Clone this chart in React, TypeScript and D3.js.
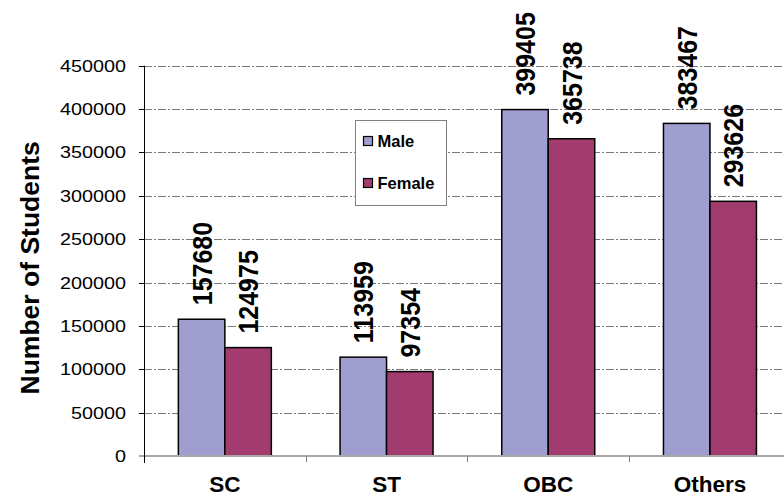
import React, { useRef, useEffect } from "react";
import * as d3 from "d3";

const categories = ["SC", "ST", "OBC", "Others"];
const seriesNames = ["Male", "Female"];
const maleValues = [157680, 113959, 399405, 383467];
const femaleValues = [124975, 97354, 365738, 293626];
const yTicks = [0, 50000, 100000, 150000, 200000, 250000, 300000, 350000, 400000, 450000];

const colors: Record<string, string> = { Male: "#A09ECE", Female: "#A33C6E" };

const App: React.FC = () => {
  const svgRef = useRef<SVGSVGElement | null>(null);

  useEffect(() => {
    const width = 784;
    const height = 496;
    const svg = d3.select(svgRef.current);
    svg.selectAll("*").remove();
    svg.attr("width", width).attr("height", height);

    const font = "'Liberation Sans', Arial, sans-serif";
    const left = 144;
    const step = 161.7;
    const y0 = 456;
    const yTop = 65.7;

    const x0 = d3
      .scaleBand<string>()
      .domain(categories)
      .range([left, left + step * categories.length])
      .paddingInner(0.425)
      .paddingOuter(0.2125);

    const x1 = d3
      .scaleBand<string>()
      .domain(seriesNames)
      .range([0, x0.bandwidth()]);

    const y = d3.scaleLinear().domain([0, 450000]).range([y0, yTop]);

    const rows = categories.map((c, i) => ({
      cat: c,
      vals: [
        { key: "Male", value: maleValues[i] },
        { key: "Female", value: femaleValues[i] },
      ],
    }));

    // gridlines
    svg
      .append("g")
      .selectAll("line")
      .data(yTicks.filter((t) => t > 0))
      .join("line")
      .attr("x1", left)
      .attr("x2", width)
      .attr("y1", (d) => Math.round(y(d)) + 0.5)
      .attr("y2", (d) => Math.round(y(d)) + 0.5)
      .attr("stroke", "#7a7a7a")
      .attr("stroke-dasharray", "8,2,2,2");

    // y tick marks + labels
    const yg = svg.append("g");
    yTicks.forEach((t) => {
      const yy = Math.round(y(t)) + 0.5;
      yg.append("line")
        .attr("x1", left - 5)
        .attr("x2", left)
        .attr("y1", yy)
        .attr("y2", yy)
        .attr("stroke", "#000");
      yg.append("text")
        .attr("transform", `translate(126,${yy}) scale(1.2,1)`)
        .attr("text-anchor", "end")
        .attr("dy", "0.36em")
        .attr("font-family", font)
        .attr("font-size", 16.5)
        .attr("fill", "#000")
        .text(String(t));
    });

    // bars
    const groups = svg
      .append("g")
      .selectAll("g")
      .data(rows)
      .join("g")
      .attr("transform", (d) => `translate(${x0(d.cat)},0)`);

    groups
      .selectAll("rect")
      .data((d) => d.vals)
      .join("rect")
      .attr("x", (d) => x1(d.key)!)
      .attr("y", (d) => y(d.value))
      .attr("width", x1.bandwidth())
      .attr("height", (d) => y0 - y(d.value))
      .attr("fill", (d) => colors[d.key])
      .attr("stroke", "#000")
      .attr("stroke-width", 1.5);

    // value labels (rotated)
    groups
      .selectAll("text")
      .data((d) => d.vals)
      .join("text")
      .attr(
        "transform",
        (d) =>
          `translate(${x1(d.key)! + x1.bandwidth() / 2},${y(d.value) - 14}) rotate(-90) scale(1,1.12)`
      )
      .attr("dy", "0.36em")
      .attr("font-family", font)
      .attr("font-weight", "bold")
      .attr("font-size", 25)
      .attr("fill", "#000")
      .text((d) => String(d.value));

    // x baseline
    svg
      .append("line")
      .attr("x1", left - 5)
      .attr("x2", width)
      .attr("y1", y0)
      .attr("y2", y0)
      .attr("stroke", "#a8a8a8")
      .attr("stroke-width", 2);

    // category boundary ticks
    svg
      .append("g")
      .selectAll("line")
      .data(categories.slice(1))
      .join("line")
      .attr("x1", (d) => Math.round(x0(d)! - (step - x0.bandwidth()) / 2) + 0.5)
      .attr("x2", (d) => Math.round(x0(d)! - (step - x0.bandwidth()) / 2) + 0.5)
      .attr("y1", y0)
      .attr("y2", y0 + 6)
      .attr("stroke", "#808080");

    // y axis line
    svg
      .append("line")
      .attr("x1", left + 0.5)
      .attr("x2", left + 0.5)
      .attr("y1", yTop)
      .attr("y2", y0 + 7)
      .attr("stroke", "#000");

    // x labels
    svg
      .append("g")
      .selectAll("text")
      .data(categories)
      .join("text")
      .attr("x", (d) => x0(d)! + x0.bandwidth() / 2)
      .attr("y", 491.5)
      .attr("text-anchor", "middle")
      .attr("font-family", font)
      .attr("font-weight", "bold")
      .attr("font-size", 22.5)
      .attr("fill", "#000")
      .text((d) => d);

    // y axis title
    svg
      .append("text")
      .attr("transform", `translate(29,${(y0 + yTop) / 2 + 7}) rotate(-90)`)
      .attr("text-anchor", "middle")
      .attr("dy", "0.36em")
      .attr("font-family", font)
      .attr("font-weight", "bold")
      .attr("font-size", 26.5)
      .attr("fill", "#000")
      .text("Number of Students");

    // legend
    const lg = svg.append("g").attr("transform", "translate(355.5,120.5)");
    lg.append("rect")
      .attr("width", 91)
      .attr("height", 85)
      .attr("fill", "#fff")
      .attr("stroke", "#808080");
    seriesNames.forEach((s, i) => {
      const row = lg.append("g").attr("transform", `translate(8,${20.5 + i * 42})`);
      row
        .append("rect")
        .attr("x", 0)
        .attr("y", -4.5)
        .attr("width", 9)
        .attr("height", 9)
        .attr("fill", colors[s])
        .attr("stroke", "#000")
        .attr("stroke-width", 1.2);
      row
        .append("text")
        .attr("x", 14)
        .attr("dy", "0.36em")
        .attr("font-family", font)
        .attr("font-weight", "bold")
        .attr("font-size", 16.5)
        .attr("fill", "#000")
        .text(s);
    });
  }, []);

  return <svg ref={svgRef} style={{ position: "absolute", left: 0, top: 0 }}></svg>;
};

export default App;
